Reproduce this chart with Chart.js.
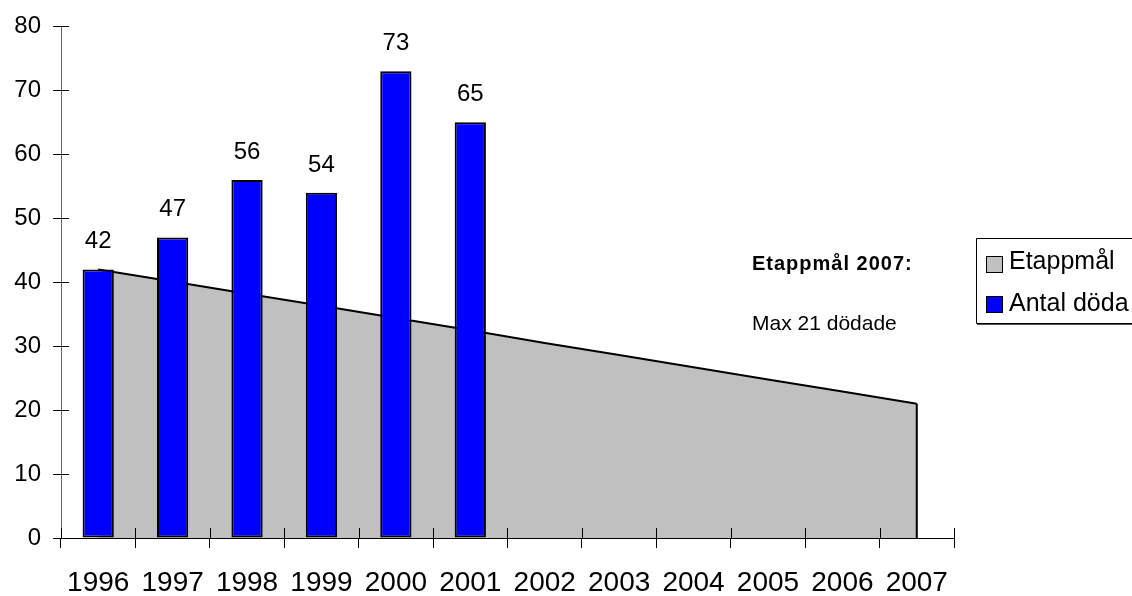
<!DOCTYPE html>
<html>
<head>
<meta charset="utf-8">
<script src="https://cdn.jsdelivr.net/npm/chart.js@4/dist/chart.umd.min.js"></script>
<style>
html,body{margin:0;padding:0;background:#fff;}
#wrap{width:1132px;height:596px;position:relative;}
</style>
</head>
<body>
<div id="wrap"><canvas id="c"></canvas></div>
<script>
const years = ['1996','1997','1998','1999','2000','2001','2002','2003','2004','2005','2006','2007'];
const antalDoda = [42, 47, 56, 54, 73, 65, null, null, null, null, null, null];
const etappmal = [42, 40.1, 38.2, 36.3, 34.4, 32.5, 30.5, 28.6, 26.7, 24.8, 22.9, 21];
const yTicks = [0, 10, 20, 30, 40, 50, 60, 70, 80];
const seriesNames = ['Etappmål', 'Antal döda'];
const noteTitle = 'Etappmål 2007:';
const noteText = 'Max 21 dödade';

const FONT = "'Liberation Sans', Arial, Helvetica, sans-serif";

const extras = {
  id: 'extras',
  afterDatasetsDraw(chart) {
    const ctx = chart.ctx;
    const xs = chart.scales.x, ys = chart.scales.y;
    const area = chart.chartArea;
    ctx.save();
    // right vertical edge of area series
    const areaMeta = chart.getDatasetMeta(0);
    const last = areaMeta.data[areaMeta.data.length - 1];
    ctx.strokeStyle = '#000';
    ctx.lineWidth = 2;
    ctx.beginPath();
    ctx.moveTo(last.x, last.y);
    ctx.lineTo(last.x, ys.getPixelForValue(0));
    ctx.stroke();

    // inner tick marks on y axis
    ctx.lineWidth = 1;
    ctx.strokeStyle = '#000';
    yTicks.forEach(v => {
      const y = Math.round(ys.getPixelForValue(v)) + 0.5;
      ctx.beginPath();
      ctx.moveTo(area.left, y);
      ctx.lineTo(area.left + 8, y);
      ctx.stroke();
    });
    // inner tick marks on x axis (category boundaries)
    const yb = ys.getPixelForValue(0);
    for (let i = 0; i <= years.length; i++) {
      let x;
      if (i === 0) x = area.left;
      else if (i === years.length) x = area.right;
      else x = (xs.getPixelForValue(i - 1) + xs.getPixelForValue(i)) / 2;
      x = Math.round(x) + 0.5;
      ctx.beginPath();
      ctx.moveTo(x, yb - 10);
      ctx.lineTo(x, yb);
      ctx.stroke();
    }

    // data labels above bars
    const barMeta = chart.getDatasetMeta(1);
    ctx.fillStyle = '#000';
    ctx.font = '24px ' + FONT;
    ctx.textAlign = 'center';
    ctx.textBaseline = 'alphabetic';
    barMeta.data.forEach((b, i) => {
      const v = antalDoda[i];
      if (v === null || v === undefined) return;
      ctx.fillText(String(v), b.x, b.y - 21);
    });

    // annotation
    ctx.textAlign = 'left';
    ctx.font = 'bold 20px ' + FONT;
    try { ctx.letterSpacing = '1px'; } catch (e) {}
    ctx.fillText(noteTitle, 752, 270);
    try { ctx.letterSpacing = '0px'; } catch (e) {}
    ctx.font = '21px ' + FONT;
    ctx.fillText(noteText, 752, 330);

    // legend
    ctx.strokeStyle = '#000';
    ctx.lineWidth = 1;
    ctx.beginPath();
    ctx.moveTo(1140, 238.5);
    ctx.lineTo(976.5, 238.5);
    ctx.lineTo(976.5, 323.5);
    ctx.lineTo(1140, 323.5);
    ctx.stroke();
    ctx.strokeStyle = '#555';
    ctx.beginPath();
    ctx.moveTo(977, 324.5);
    ctx.lineTo(1140, 324.5);
    ctx.stroke();

    const legendItems = [
      { name: seriesNames[0], color: '#C0C0C0', y: 256.5, base: 269 },
      { name: seriesNames[1], color: '#0000FF', y: 296.5, base: 311 }
    ];
    ctx.font = '25px ' + FONT;
    legendItems.forEach(it => {
      ctx.fillStyle = it.color;
      ctx.fillRect(986.5, it.y, 16, 16);
      ctx.strokeStyle = '#000';
      ctx.strokeRect(986.5, it.y, 16, 16);
      ctx.fillStyle = '#000';
      ctx.fillText(it.name, 1009, it.base);
    });
    ctx.restore();
  }
};

new Chart(document.getElementById('c'), {
  data: {
    labels: years,
    datasets: [
      {
        type: 'line',
        label: seriesNames[0],
        data: etappmal,
        fill: 'origin',
        backgroundColor: '#C0C0C0',
        borderColor: '#000',
        borderWidth: 2,
        pointRadius: 0,
        tension: 0,
        order: 2
      },
      {
        type: 'bar',
        label: seriesNames[1],
        data: antalDoda,
        backgroundColor: '#0000FF',
        borderColor: '#000',
        borderWidth: 2,
        borderSkipped: false,
        barPercentage: 0.42,
        categoryPercentage: 1.0,
        order: 1
      }
    ]
  },
  options: {
    responsive: true,
    maintainAspectRatio: false,
    devicePixelRatio: 1,
    animation: false,
    layout: { padding: { left: 0, right: 178, top: 24, bottom: 0 } },
    plugins: { legend: { display: false }, tooltip: { enabled: false } },
    scales: {
      x: {
        type: 'category',
        offset: true,
        grid: { display: true, offset: true, drawOnChartArea: false, drawTicks: true, tickLength: 10, color: '#000', lineWidth: 1 },
        border: { display: true, color: '#000', width: 1 },
        ticks: { color: '#000', font: { family: FONT, size: 28 }, padding: 18, maxRotation: 0, autoSkip: false },
        afterFit(s) { s.height = 58; }
      },
      y: {
        min: 0,
        max: 80,
        afterBuildTicks(s) { s.ticks = yTicks.map(v => ({ value: v })); },
        grid: { display: true, drawOnChartArea: false, drawTicks: true, tickLength: 8, color: '#000', lineWidth: 1 },
        border: { display: true, color: '#666', width: 1 },
        ticks: { color: '#000', font: { family: FONT, size: 24 }, padding: 12 },
        afterFit(s) { s.width = 61; }
      }
    }
  },
  plugins: [extras]
});
</script>
</body>
</html>
